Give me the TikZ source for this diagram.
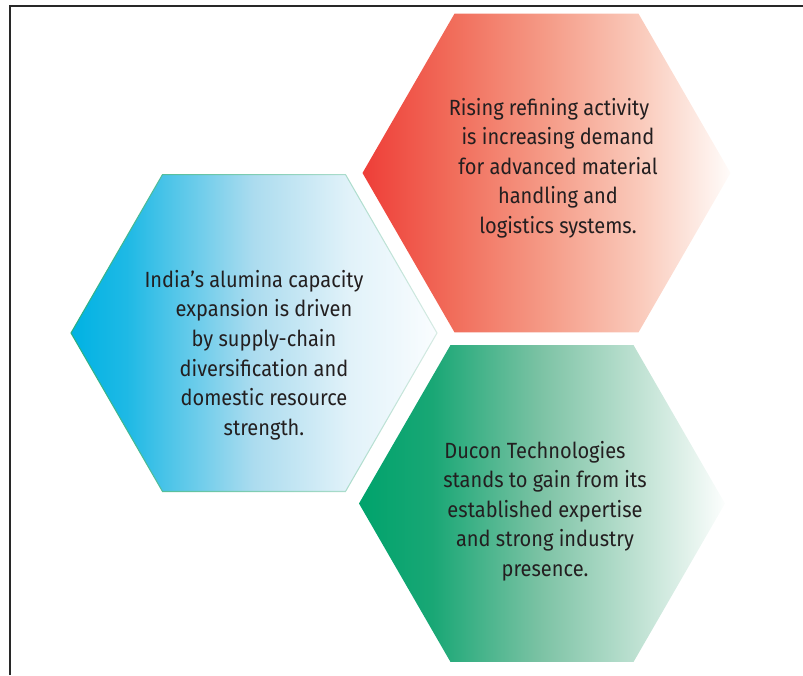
\documentclass[tikz,border=0pt]{standalone}
\usepackage{fontspec}
\setmainfont{Fira Sans}[FakeStretch=0.91]
\usetikzlibrary{calc}

% horizontal fills: the path's bounding box spans 25bp..75bp
\pgfdeclarehorizontalshading{blueshade}{100bp}{%
  color(0bp)=(rgb,255:red,0;green,178;blue,227);
  color(25bp)=(rgb,255:red,0;green,178;blue,227);
  color(32.6bp)=(rgb,255:red,30;green,185;blue,229);
  color(50bp)=(rgb,255:red,172;green,220;blue,239);
  color(63bp)=(rgb,255:red,225;green,242;blue,249);
  color(75bp)=(rgb,255:red,250;green,253;blue,255);
  color(100bp)=(rgb,255:red,250;green,253;blue,255)}
\pgfdeclarehorizontalshading{redshade}{100bp}{%
  color(0bp)=(rgb,255:red,238;green,62;blue,56);
  color(25bp)=(rgb,255:red,238;green,62;blue,56);
  color(37bp)=(rgb,255:red,241;green,108;blue,90);
  color(50bp)=(rgb,255:red,245;green,155;blue,135);
  color(63bp)=(rgb,255:red,250;green,203;blue,188);
  color(75bp)=(rgb,255:red,255;green,252;blue,250);
  color(100bp)=(rgb,255:red,255;green,252;blue,250)}
\pgfdeclarehorizontalshading{greenshade}{100bp}{%
  color(0bp)=(rgb,255:red,0;green,163;blue,108);
  color(25bp)=(rgb,255:red,0;green,163;blue,108);
  color(35bp)=(rgb,255:red,25;green,167;blue,117);
  color(50bp)=(rgb,255:red,125;green,195;blue,165);
  color(63bp)=(rgb,255:red,190;green,225;blue,210);
  color(75bp)=(rgb,255:red,252;green,254;blue,253);
  color(100bp)=(rgb,255:red,252;green,254;blue,253)}
\pgfdeclarehorizontalshading{rimshade}{100bp}{%
  color(0bp)=(rgb,255:red,40;green,175;blue,130);
  color(25bp)=(rgb,255:red,40;green,175;blue,130);
  color(75bp)=(rgb,255:red,215;green,235;blue,228);
  color(100bp)=(rgb,255:red,215;green,235;blue,228)}

\definecolor{inktext}{RGB}{35,31,32}
\definecolor{framegray}{RGB}{40,40,40}

% flat-topped hexagon: centre (#1,#2), circumradius #3
\newcommand{\hexpath}[3]{%
  (#1+#3,#2) -- (#1+#3/2,#2+0.866*#3) -- (#1-#3/2,#2+0.866*#3) --
  (#1-#3,#2) -- (#1-#3/2,#2-0.866*#3) -- (#1+#3/2,#2-0.866*#3) -- cycle}

\tikzset{
  hextext/.style={align=center, text=inktext,
    font=\fontsize{22}{29.6}\selectfont, inner sep=0pt}
}

\begin{document}
\begin{tikzpicture}[x=1pt,y=-1pt]
\useasboundingbox (0,0) rectangle (803,675);

% page frame
\draw[framegray, line width=1.5pt] (10,675) -- (10,6) -- (803,6);

% hexagons
\shade[shading=blueshade] \hexpath{254}{333}{183};
\shade[shading=rimshade, even odd rule] \hexpath{254}{333}{183.6} \hexpath{254}{333}{182.4};
\shade[shading=redshade] \hexpath{546.5}{173}{184};
\shade[shading=greenshade] \hexpath{542}{503.5}{183};

% texts
\node[hextext] (india) at (264,355)
  {India’s alumina capacity\hspace*{20pt}\\ expansion is driven\\ by supply-chain\\
   diversification and\\ domestic resource\\ strength.};
\node[hextext] (rising) at (558,168)
  {Rising refining activity\hspace*{18pt}\\ is increasing demand\\ for advanced material\\
   handling and\\ logistics systems.};
\node[hextext] (ducon) at (545,511)
  {Ducon Technologies\hspace*{20pt}\\ stands to gain from its\\ established expertise\\
   and strong industry\\ presence.};
\end{tikzpicture}
\end{document}
